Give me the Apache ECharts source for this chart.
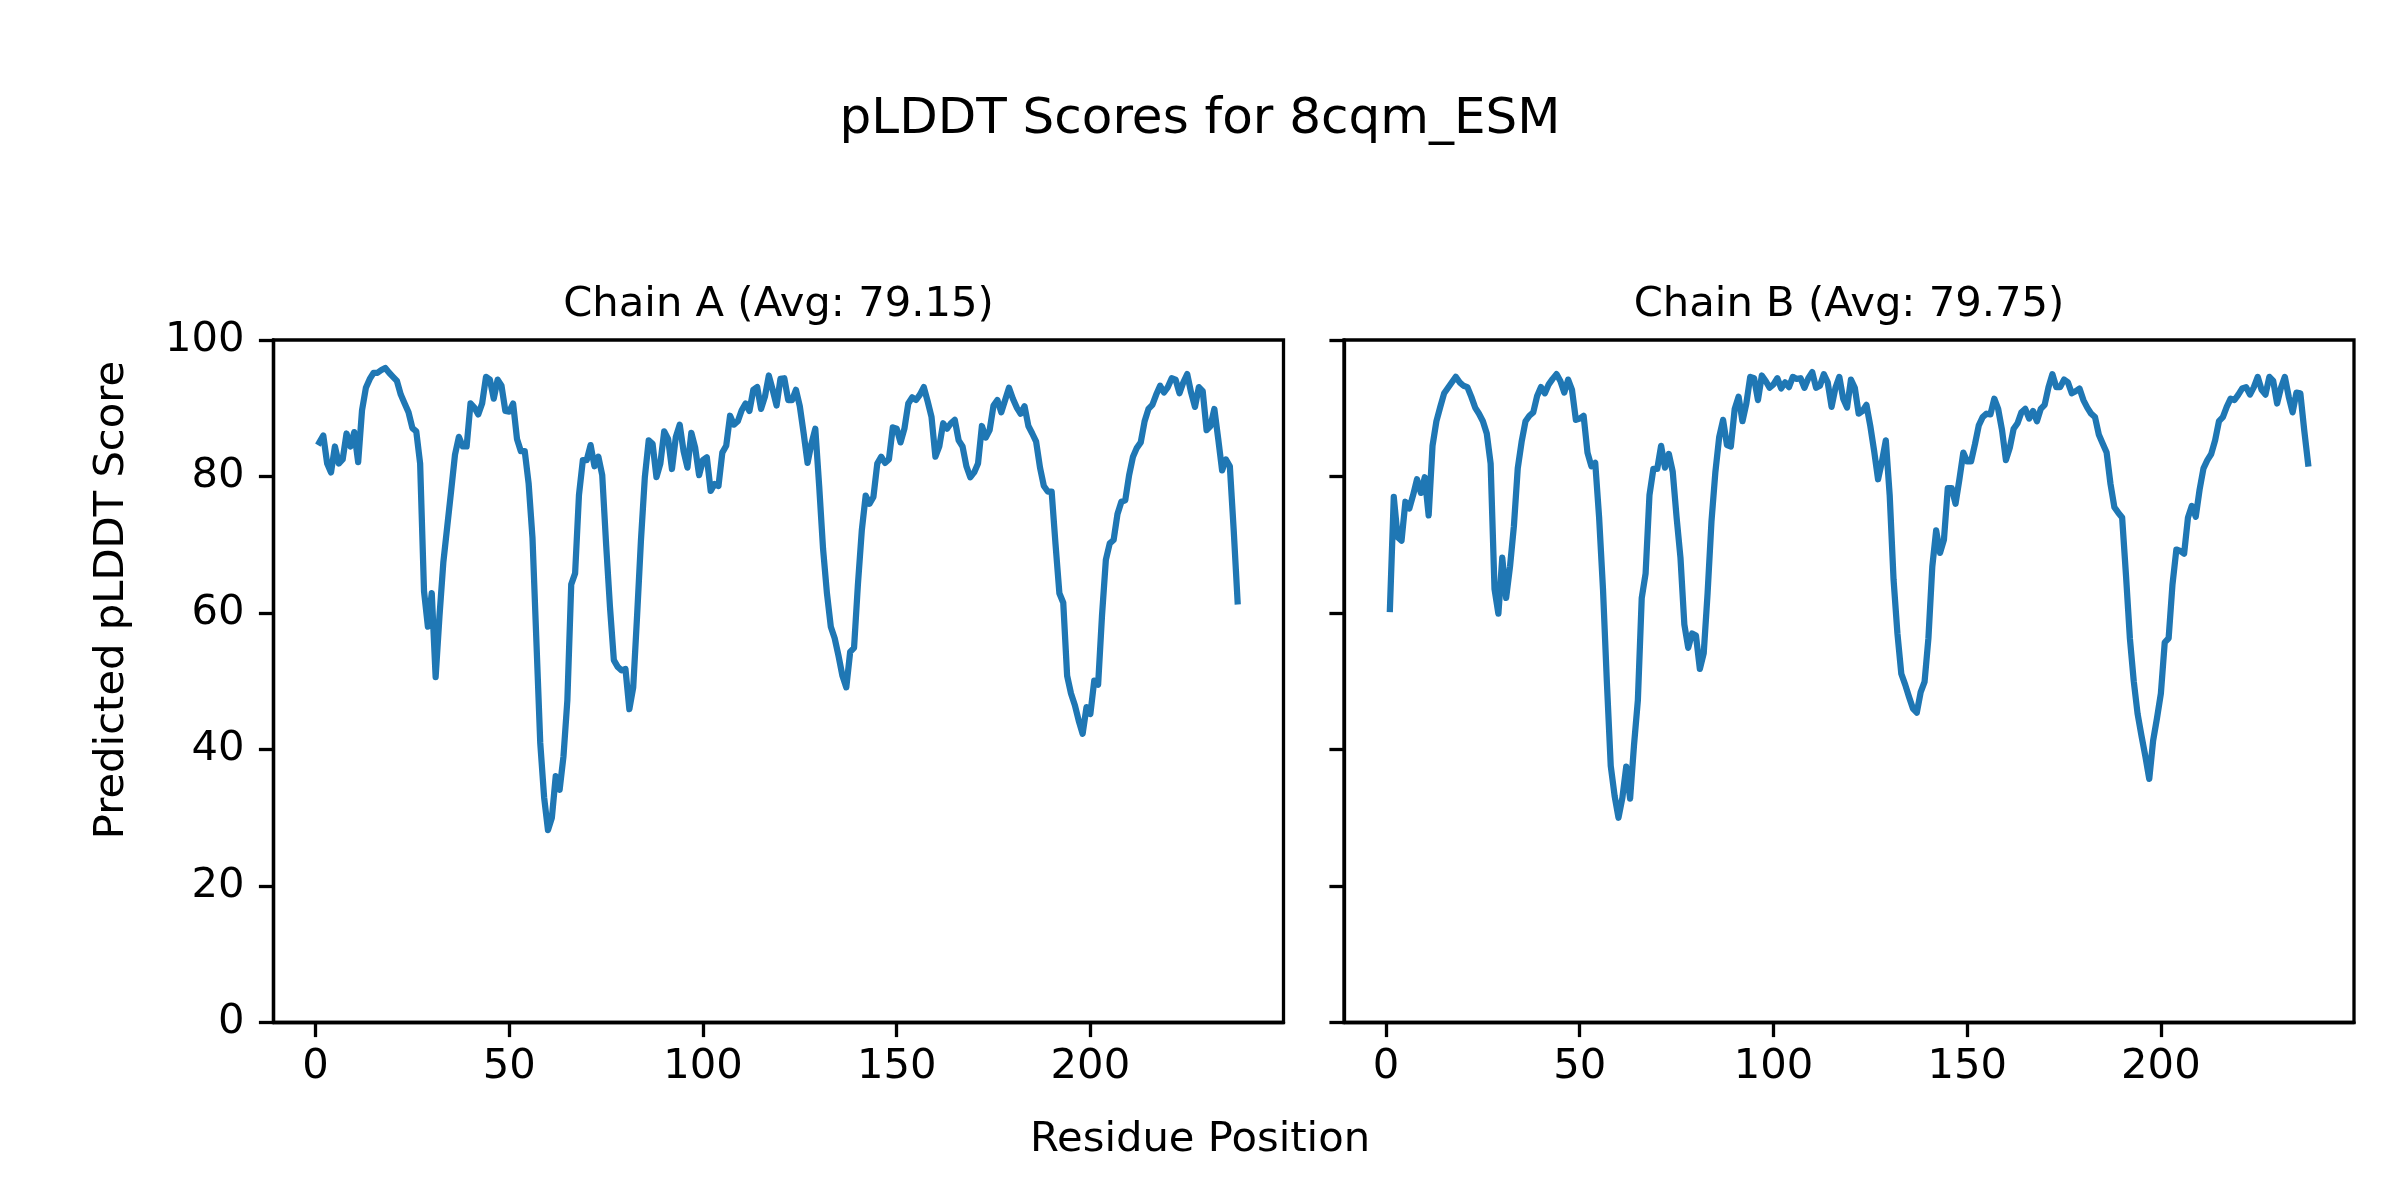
<!DOCTYPE html>
<html>
<head>
<meta charset="utf-8">
<script src="https://cdn.jsdelivr.net/npm/echarts@6/dist/echarts.min.js"></script>
<style>
html,body{margin:0;padding:0;background:#fff;}
#chart{width:2400px;height:1200px;}
</style>
</head>
<body>
<div id="chart"></div>
<script>
// ---- data ----
const figureTitle = 'pLDDT Scores for 8cqm_ESM';
const xLabelText = 'Residue Position';
const yLabelText = 'Predicted pLDDT Score';
const chainTitles = ['Chain A (Avg: 79.15)', 'Chain B (Avg: 79.75)'];
const residueStart = 1;
const xTicks = [0, 50, 100, 150, 200];
const yTicks = [0, 20, 40, 60, 80, 100];

const chainA = [
  85.0, 86.0, 81.9, 80.6, 84.4, 81.9, 82.5, 86.3, 84.4, 86.5,
  82.1, 89.7, 93.0, 94.3, 95.2, 95.2, 95.6, 95.9, 95.2, 94.6,
  94.0, 92.0, 90.7, 89.4, 87.1, 86.6, 81.9, 63.2, 58.0, 62.9,
  50.6, 59.6, 67.5, 72.7, 77.9, 83.2, 85.8, 84.4, 84.4, 90.7,
  90.1, 89.1, 90.7, 94.6, 94.2, 91.4, 94.2, 93.3, 89.6, 89.5,
  90.7, 85.5, 83.7, 83.7, 79.0, 71.0, 56.0, 41.0, 33.0, 28.2,
  30.0, 36.1, 34.1, 39.0, 47.2, 64.2, 65.8, 77.3, 82.4, 82.4,
  84.6, 81.5, 82.9, 80.2, 70.1, 60.9, 53.1, 52.1, 51.6, 51.8,
  45.9, 49.1, 59.6, 70.7, 79.9, 85.3, 84.8, 79.9, 81.9, 86.6,
  85.5, 81.1, 85.8, 87.6, 83.7, 81.3, 86.4, 84.2, 80.2, 82.4,
  82.8, 77.9, 78.9, 78.6, 83.5, 84.5, 88.9, 87.6, 88.1, 89.7,
  90.7, 89.6, 92.7, 93.1, 89.9, 91.7, 94.8, 92.7, 90.4, 94.3,
  94.4, 91.2, 91.2, 92.7, 90.3, 86.3, 82.0, 84.8, 87.0, 78.6,
  69.4, 62.9, 58.0, 56.3, 53.7, 50.8, 49.1, 54.3, 54.9, 64.2,
  72.1, 77.2, 76.0, 77.0, 81.9, 82.9, 82.0, 82.5, 87.2, 87.0,
  85.0, 87.0, 90.7, 91.6, 91.2, 92.0, 93.1, 91.0, 88.7, 82.9,
  84.4, 87.8, 87.0, 87.8, 88.3, 85.3, 84.4, 81.5, 79.9, 80.6,
  81.9, 87.4, 85.7, 86.8, 90.4, 91.2, 89.4, 91.2, 93.0, 91.4,
  90.1, 89.2, 90.3, 87.4, 86.3, 85.1, 81.3, 78.6, 77.8, 77.8,
  70.1, 62.9, 61.5, 50.8, 48.2, 46.5, 44.2, 42.3, 46.2, 45.2,
  50.1, 49.5, 59.6, 67.8, 70.2, 70.7, 74.5, 76.3, 76.5, 80.2,
  82.9, 84.2, 85.0, 88.1, 89.9, 90.5, 92.0, 93.3, 92.3, 93.1,
  94.4, 94.2, 92.2, 93.8, 95.0, 92.3, 90.2, 93.1, 92.5, 86.8,
  87.4, 89.9, 85.5, 80.9, 82.5, 81.5, 72.1, 61.7
];

const chainB = [
  60.6, 77.0, 71.1, 70.6, 76.3, 75.3, 77.3, 79.6, 77.6, 79.9,
  74.3, 84.5, 88.1, 90.2, 92.2, 93.0, 93.8, 94.6, 93.8, 93.3,
  93.1, 91.7, 90.1, 89.2, 88.1, 86.3, 81.9, 63.5, 59.9, 68.1,
  62.2, 66.8, 72.7, 81.2, 85.1, 88.1, 88.9, 89.4, 91.8, 93.1,
  92.2, 93.5, 94.3, 95.0, 94.0, 92.3, 94.2, 92.7, 88.3, 88.5,
  88.9, 83.5, 81.5, 82.0, 74.0, 63.5, 49.9, 37.6, 33.2, 30.0,
  32.9, 37.5, 32.8, 40.6, 47.2, 62.2, 65.8, 77.3, 81.1, 81.1,
  84.5, 81.3, 83.3, 80.7, 74.0, 68.1, 58.3, 54.9, 57.0, 56.7,
  51.8, 54.1, 62.9, 73.4, 80.6, 85.8, 88.3, 84.6, 84.4, 89.9,
  91.7, 88.1, 90.7, 94.6, 94.4, 91.2, 94.8, 94.0, 93.0, 93.5,
  94.4, 92.9, 93.8, 93.1, 94.6, 94.3, 94.4, 93.0, 94.4, 95.3,
  93.0, 93.3, 95.0, 93.8, 90.2, 93.0, 94.6, 91.4, 90.1, 94.2,
  93.0, 89.2, 89.6, 90.5, 87.4, 83.7, 79.6, 82.2, 85.3, 77.3,
  64.9, 57.0, 51.1, 49.5, 47.7, 46.0, 45.4, 48.4, 49.9, 56.3,
  66.8, 72.1, 68.8, 70.7, 78.3, 78.3, 76.0, 79.6, 83.5, 82.2,
  82.2, 84.7, 87.5, 88.7, 89.2, 89.1, 91.4, 89.9, 86.8, 82.4,
  84.2, 87.0, 87.8, 89.4, 89.9, 88.5, 89.6, 88.1, 89.9, 90.5,
  93.1, 95.0, 93.1, 93.1, 94.2, 93.8, 92.2, 92.5, 92.9, 91.2,
  90.1, 89.2, 88.7, 86.1, 84.8, 83.5, 78.9, 75.5, 74.7, 74.0,
  65.5, 56.3, 50.0, 45.2, 42.0, 39.0, 35.7, 41.3, 44.6, 48.2,
  55.7, 56.3, 64.2, 69.3, 69.1, 68.7, 74.0, 75.7, 74.1, 78.1,
  81.2, 82.4, 83.3, 85.3, 88.1, 88.7, 90.2, 91.4, 91.2, 92.0,
  92.9, 93.1, 92.0, 93.1, 94.6, 92.7, 92.0, 94.6, 94.0, 90.7,
  93.0, 94.6, 91.7, 89.4, 92.3, 92.2, 86.8, 81.9
];

// ---- chart ----
const FONT = '"DejaVu Sans", sans-serif';
const TICK_FS = 41.7;
const LINE_COLOR = '#1f77b4';
const SPINE = 3.3;

const toPairs = arr => arr.map((v, i) => [residueStart + i, v]);

const grids = [
  {left: 273.5, top: 340, width: 1010, height: 682.5},
  {left: 1344, top: 340, width: 1010, height: 682.5}
];

function xAxisCfg(idx) {
  return {
    type: 'value', gridIndex: idx, min: -10.85, max: 249.85,
    axisLine: {show: true, onZero: false, lineStyle: {color: '#000', width: SPINE}},
    axisTick: {show: true, inside: false, length: 14.6, customValues: xTicks, lineStyle: {color: '#000', width: SPINE}},
    axisLabel: {show: true, margin: 24, customValues: xTicks, color: '#000', fontSize: TICK_FS, fontFamily: FONT},
    splitLine: {show: false}
  };
}
function yAxisCfg(idx, showLabels) {
  return {
    type: 'value', gridIndex: idx, min: 0, max: 100, interval: 20,
    axisLine: {show: true, onZero: false, lineStyle: {color: '#000', width: SPINE}},
    axisTick: {show: true, inside: false, length: 14.6, lineStyle: {color: '#000', width: SPINE}},
    axisLabel: {show: showLabels, margin: 29, color: '#000', fontSize: TICK_FS, fontFamily: FONT},
    splitLine: {show: false}
  };
}

const chart = echarts.init(document.getElementById('chart'), null, {width: 2400, height: 1200, renderer: 'canvas'});

function txt(text, x, y, size, rot) {
  return {
    type: 'text', x: x, y: y, rotation: rot || 0, silent: true,
    style: {
      text: text, fill: '#000', font: size + 'px ' + FONT,
      textAlign: 'center', textVerticalAlign: 'middle',
      align: 'center', verticalAlign: 'middle'
    }
  };
}

chart.setOption({
  backgroundColor: '#fff',
  animation: false,
  grid: grids.map(g => Object.assign({show: true, borderColor: '#000', borderWidth: SPINE, backgroundColor: 'transparent'}, g)),
  xAxis: [xAxisCfg(0), xAxisCfg(1)],
  yAxis: [yAxisCfg(0, true), yAxisCfg(1, false)],
  series: [
    {type: 'line', xAxisIndex: 0, yAxisIndex: 0, data: toPairs(chainA), showSymbol: false,
     lineStyle: {color: LINE_COLOR, width: 6.25, cap: 'square', join: 'round'}},
    {type: 'line', xAxisIndex: 1, yAxisIndex: 1, data: toPairs(chainB), showSymbol: false,
     lineStyle: {color: LINE_COLOR, width: 6.25, cap: 'square', join: 'round'}}
  ],
  graphic: [
    txt(figureTitle, 1200, 120, 50),
    txt(chainTitles[0], 273.5 + 1010 / 2, 305, TICK_FS),
    txt(chainTitles[1], 1344 + 1010 / 2, 305, TICK_FS),
    txt(xLabelText, 1200, 1140, TICK_FS),
    txt(yLabelText, 112, 600, TICK_FS, Math.PI / 2)
  ]
});
</script>
</body>
</html>
